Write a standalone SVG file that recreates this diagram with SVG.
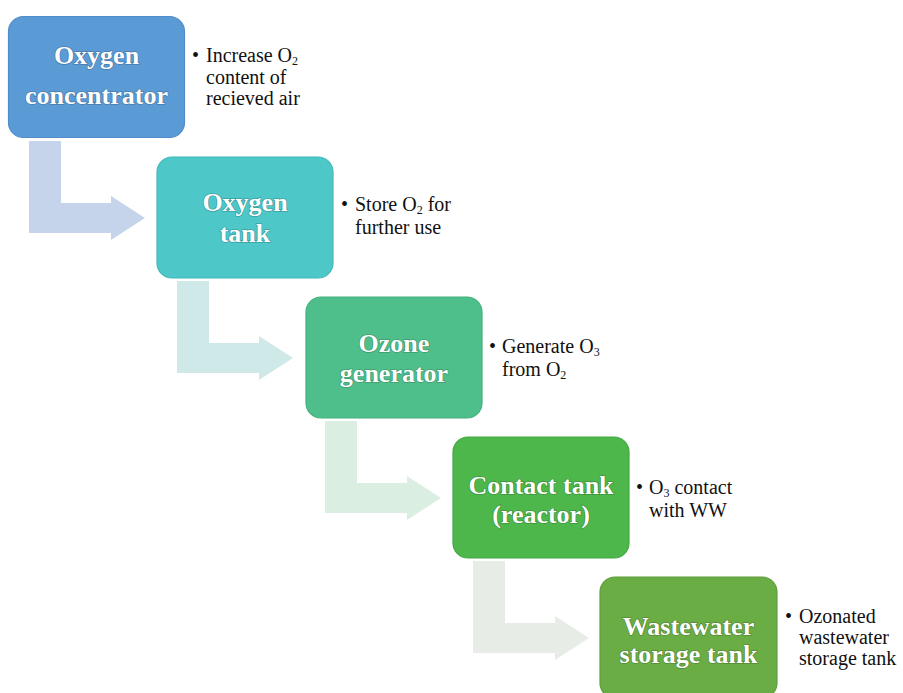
<svg xmlns="http://www.w3.org/2000/svg" width="903" height="693" viewBox="0 0 903 693">
  <style>
    .box { stroke-width: 1.2; }
    .lbl { font-family: "Liberation Serif", "Times New Roman", serif; font-weight: bold; font-size: 26px; fill: #ffffff; text-anchor: middle; stroke: rgba(0,0,0,0.22); stroke-width: 1.6; paint-order: stroke; }
    .note { font-family: "Liberation Serif", "Times New Roman", serif; font-size: 20px; fill: #111111; }
    .sub { font-size: 12px; }
    .arrow { stroke: none; }
  </style>
  <defs>
    <path id="bent" d="M0,0 H32 V62 H82 V55 L116,77 L82,99 V92 H0 Z"/>
  </defs>
  <rect width="903" height="693" fill="#ffffff"/>

  <g id="connectors">
    <use href="#bent" x="29" y="141" fill="#c6d4eb"/>
    <use href="#bent" x="177" y="281" fill="#cfe9e8"/>
    <use href="#bent" x="325" y="421" fill="#dbeee2"/>
    <use href="#bent" x="473" y="561" fill="#e7ede6"/>
  </g>

  <g id="node-oxygen-concentrator">
    <rect class="box" x="8.5" y="16.5" width="176" height="121" rx="15" fill="#5b9bd5" stroke="#4f8ccb"/>
    <text class="lbl" x="96.5" y="64">Oxygen</text>
    <text class="lbl" x="96.5" y="104">concentrator</text>
    <text class="note" x="192" y="62">•</text>
    <text class="note" x="206" y="62">Increase O<tspan class="sub" dy="3">2</tspan></text>
    <text class="note" x="206" y="84">content of</text>
    <text class="note" x="206" y="105">recieved air</text>
  </g>

  <g id="node-oxygen-tank">
    <rect class="box" x="157" y="157" width="176" height="121" rx="15" fill="#4dc7c8" stroke="#43b8ba"/>
    <text class="lbl" x="245" y="211">Oxygen</text>
    <text class="lbl" x="245" y="242">tank</text>
    <text class="note" x="341" y="211">•</text>
    <text class="note" x="355" y="211">Store O<tspan class="sub" dy="3">2</tspan><tspan dy="-3"> for</tspan></text>
    <text class="note" x="355" y="234">further use</text>
  </g>

  <g id="node-ozone-generator">
    <rect class="box" x="306" y="297" width="176" height="121" rx="15" fill="#4ebf8b" stroke="#44b07e"/>
    <text class="lbl" x="394" y="352">Ozone</text>
    <text class="lbl" x="394" y="382">generator</text>
    <text class="note" x="489" y="353">•</text>
    <text class="note" x="502" y="353">Generate O<tspan class="sub" dy="3">3</tspan></text>
    <text class="note" x="502" y="376">from O<tspan class="sub" dy="3">2</tspan></text>
  </g>

  <g id="node-contact-tank">
    <rect class="box" x="453" y="437" width="176" height="121" rx="15" fill="#4db74b" stroke="#43a842"/>
    <text class="lbl" x="541" y="494">Contact tank</text>
    <text class="lbl" x="541" y="523">(reactor)</text>
    <text class="note" x="636" y="494">•</text>
    <text class="note" x="649" y="494">O<tspan class="sub" dy="3">3</tspan><tspan dy="-3"> contact</tspan></text>
    <text class="note" x="649" y="517">with WW</text>
  </g>

  <g id="node-wastewater-storage-tank">
    <rect class="box" x="600" y="577" width="177" height="121" rx="15" fill="#6aad45" stroke="#5e9e3c"/>
    <text class="lbl" x="688.5" y="635">Wastewater</text>
    <text class="lbl" x="688.5" y="663">storage tank</text>
    <text class="note" x="785" y="623">•</text>
    <text class="note" x="799" y="623">Ozonated</text>
    <text class="note" x="799" y="644">wastewater</text>
    <text class="note" x="799" y="665">storage tank</text>
  </g>
</svg>
